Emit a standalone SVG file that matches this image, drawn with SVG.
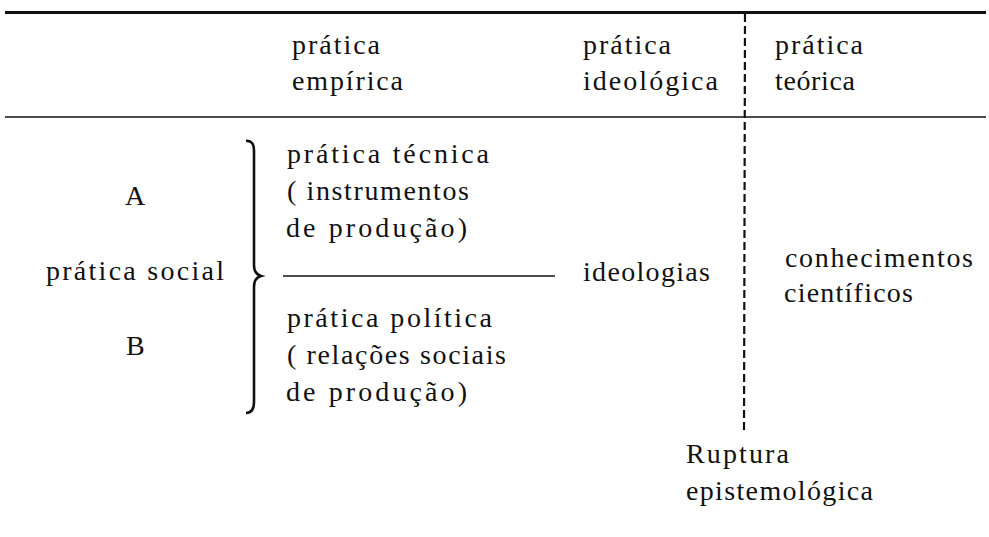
<svg xmlns="http://www.w3.org/2000/svg" width="989" height="537" viewBox="0 0 989 537">
  <rect width="989" height="537" fill="#fff"/>
  <g id="rules">
    <line x1="5" y1="12.5" x2="986" y2="12.5" stroke="#111" stroke-width="3"/>
    <line x1="5" y1="117" x2="986" y2="117" stroke="#111" stroke-width="1.6"/>
  </g>
  <g id="header-empirica">
    <text x="292" y="54" style="font-family:'Liberation Serif',serif;font-size:28px;fill:#111" textLength="88" lengthAdjust="spacing">prática</text>
    <text x="292" y="90" style="font-family:'Liberation Serif',serif;font-size:28px;fill:#111" textLength="111" lengthAdjust="spacing">empírica</text>
  </g>
  <g id="header-ideologica">
    <text x="583" y="54" style="font-family:'Liberation Serif',serif;font-size:28px;fill:#111" textLength="88" lengthAdjust="spacing">prática</text>
    <text x="583" y="90" style="font-family:'Liberation Serif',serif;font-size:28px;fill:#111" textLength="135" lengthAdjust="spacing">ideológica</text>
  </g>
  <g id="header-teorica">
    <text x="775" y="54" style="font-family:'Liberation Serif',serif;font-size:28px;fill:#111" textLength="88" lengthAdjust="spacing">prática</text>
    <text x="775" y="90" style="font-family:'Liberation Serif',serif;font-size:28px;fill:#111" textLength="80" lengthAdjust="spacing">teórica</text>
  </g>
  <g id="pratica-social">
    <text x="125" y="205" style="font-family:'Liberation Serif',serif;font-size:28px;fill:#111">A</text>
    <text x="46" y="280" style="font-family:'Liberation Serif',serif;font-size:28px;fill:#111" textLength="178" lengthAdjust="spacing">prática  social</text>
    <text x="126" y="355" style="font-family:'Liberation Serif',serif;font-size:28px;fill:#111">B</text>
  </g>
  <g id="brace">
    <path fill="none" stroke="#111" stroke-width="2.6" d="M246,141 Q254,140 254,151 L254,265 Q254,274 261,276 Q254,278 254,287 L254,402 Q254,413 246,413"/>
  </g>
  <g id="pratica-tecnica">
    <text x="287" y="163" style="font-family:'Liberation Serif',serif;font-size:28px;fill:#111" textLength="202" lengthAdjust="spacing">prática  técnica</text>
    <text x="287" y="200" style="font-family:'Liberation Serif',serif;font-size:28px;fill:#111" textLength="182" lengthAdjust="spacing">( instrumentos</text>
    <text x="286" y="237" style="font-family:'Liberation Serif',serif;font-size:28px;fill:#111" textLength="181" lengthAdjust="spacing">de  produção)</text>
  </g>
  <g id="pratica-politica">
    <text x="287" y="327" style="font-family:'Liberation Serif',serif;font-size:28px;fill:#111" textLength="205" lengthAdjust="spacing">prática  política</text>
    <text x="287" y="364" style="font-family:'Liberation Serif',serif;font-size:28px;fill:#111" textLength="219" lengthAdjust="spacing">( relações  sociais</text>
    <text x="286" y="401" style="font-family:'Liberation Serif',serif;font-size:28px;fill:#111" textLength="181" lengthAdjust="spacing">de  produção)</text>
  </g>
  <g id="ideologias">
    <text x="583" y="281" style="font-family:'Liberation Serif',serif;font-size:28px;fill:#111" textLength="127" lengthAdjust="spacing">ideologias</text>
  </g>
  <g id="conhecimentos">
    <text x="785" y="267" style="font-family:'Liberation Serif',serif;font-size:28px;fill:#111" textLength="188" lengthAdjust="spacing">conhecimentos</text>
    <text x="784" y="302" style="font-family:'Liberation Serif',serif;font-size:28px;fill:#111" textLength="129" lengthAdjust="spacing">científicos</text>
  </g>
  <g id="ruptura">
    <text x="686" y="463" style="font-family:'Liberation Serif',serif;font-size:28px;fill:#111" textLength="103" lengthAdjust="spacing">Ruptura</text>
    <text x="686" y="500" style="font-family:'Liberation Serif',serif;font-size:28px;fill:#111" textLength="187" lengthAdjust="spacing">epistemológica</text>
  </g>
  <g id="connectors">
    <line x1="283" y1="276" x2="555" y2="276" stroke="#111" stroke-width="1.6"/>
    <line x1="745" y1="14" x2="744" y2="432" stroke="#111" stroke-width="2.2" stroke-dasharray="8 4"/>
  </g>
</svg>
